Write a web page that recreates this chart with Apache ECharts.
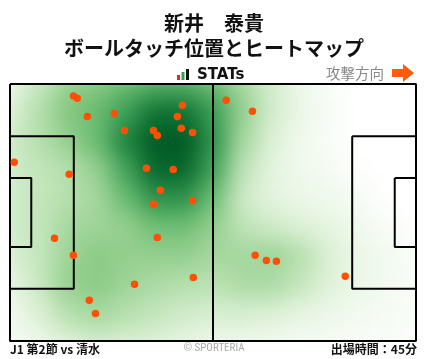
<!DOCTYPE html>
<html><head><meta charset="utf-8">
<script src="https://cdn.jsdelivr.net/npm/echarts@6/dist/echarts.min.js"></script>
<style>
html,body{margin:0;padding:0;background:#fff;}
#wrap{position:relative;width:428px;height:359px;overflow:hidden;}
#heatClip{position:absolute;left:10px;top:84px;width:406px;height:257px;overflow:hidden;}
#heat{position:absolute;left:-14.5px;top:-14.28px;width:435px;height:285.6px;filter:blur(11px);}
#main{position:absolute;left:0;top:0;width:428px;height:359px;}
</style></head>
<body><div id="wrap"><div id="heatClip"><div id="heat"></div></div><div id="main"></div></div>
<script>
// ---- data ----
const titleText = '新井　泰貴';
const subtitleText = 'ボールタッチ位置とヒートマップ';
const matchText = 'J1 第2節 vs 清水';
const minutesText = '出場時間：45分';
const directionText = '攻撃方向';
const creditText = '© SPORTERIA';

// touch positions in metres (x along 105m pitch, y from top over 68m)
const touchX = [16.4,17.4,20.0,27.0,29.6,37.1,38.1,44.6,43.3,44.3,47.2,1.1,15.3,35.3,42.2,38.9,47.2,37.1,11.5,16.4,38.1,32.2,47.4,20.5,22.1,55.9,62.7,63.4,66.3,68.9,86.7];
const touchY = [3.2,3.8,8.6,7.8,12.3,12.3,13.6,5.6,8.6,11.7,12.8,20.7,23.9,22.3,22.6,28.1,30.8,31.8,40.8,45.3,40.6,53.0,51.2,57.2,60.7,4.3,7.2,45.3,46.7,46.9,50.9];

// heat intensity: 10 rows (top->bottom) x 15 columns (left->right)
const heatGrid = [
  [0.13,0.30,0.45,0.50,0.57,0.64,0.64,0.57,0.40,0.24,0.12,0.04,0.00,0.00,0.00],
  [0.20,0.35,0.50,0.57,0.70,0.87,0.87,0.70,0.45,0.24,0.12,0.05,0.00,0.00,0.00],
  [0.25,0.35,0.45,0.57,0.80,1.00,1.00,0.74,0.40,0.20,0.10,0.05,0.00,0.00,0.00],
  [0.25,0.30,0.35,0.45,0.68,0.92,0.92,0.68,0.32,0.16,0.10,0.06,0.01,0.00,0.00],
  [0.25,0.30,0.35,0.40,0.57,0.74,0.74,0.56,0.26,0.16,0.12,0.10,0.06,0.00,0.00],
  [0.25,0.30,0.40,0.42,0.45,0.55,0.55,0.45,0.32,0.26,0.20,0.15,0.10,0.05,0.00],
  [0.20,0.30,0.42,0.48,0.45,0.45,0.45,0.40,0.40,0.42,0.35,0.20,0.12,0.08,0.04],
  [0.15,0.28,0.45,0.48,0.42,0.38,0.35,0.33,0.38,0.38,0.30,0.18,0.12,0.08,0.05],
  [0.10,0.20,0.35,0.40,0.35,0.30,0.25,0.22,0.22,0.20,0.15,0.12,0.08,0.06,0.04],
  [0.08,0.12,0.20,0.25,0.22,0.20,0.15,0.12,0.12,0.10,0.08,0.06,0.05,0.04,0.03]
];

// pitch geometry (metres)
const pitchLength = 105, pitchWidth = 68;
const penaltyDepth = 16.5, penaltyWidth = 40.32;
const goalDepth = 5.5, goalWidth = 18.32;

// ---- heat layer ----
const heatCols = heatGrid[0].map((_, i) => String(i));
const heatRows = heatGrid.map((_, i) => String(i));
const heatData = [];
heatGrid.forEach((row, r) => row.forEach((v, c) => heatData.push([c, r, v])));

const heat = echarts.init(document.getElementById('heat'), null, {renderer: 'canvas'});
heat.setOption({
  animation: false,
  grid: {left: 0, right: 0, top: 0, bottom: 0},
  xAxis: {type: 'category', data: heatCols, show: false},
  yAxis: {type: 'category', data: heatRows, inverse: true, show: false},
  visualMap: {
    show: false, min: 0, max: 1, dimension: 2,
    inRange: {color: ['#ffffff','#f0f9ed','#dcf0d5','#c4e6bc','#a5d79e','#84c77f','#5db66a','#3b9d53','#1e833f','#0a6a2f','#005a24']}
  },
  series: [{type: 'heatmap', data: heatData, itemStyle: {borderWidth: 0}, silent: true}]
});

// ---- main layer ----
function rect(x0, y0, x1, y1) { return [[x0,y0],[x1,y0],[x1,y1],[x0,y1],[x0,y0]]; }
const py0 = (pitchWidth - penaltyWidth) / 2, py1 = py0 + penaltyWidth;
const gy0 = (pitchWidth - goalWidth) / 2, gy1 = gy0 + goalWidth;
const pitchLines = [
  rect(0, 0, pitchLength, pitchWidth),
  [[pitchLength/2, 0],[pitchLength/2, pitchWidth]],
  rect(0, py0, penaltyDepth, py1),
  rect(0, gy0, goalDepth, gy1),
  rect(pitchLength - penaltyDepth, py0, pitchLength, py1),
  rect(pitchLength - goalDepth, gy0, pitchLength, gy1)
];
const lineSeries = pitchLines.map(pts => ({
  type: 'line', data: pts, symbol: 'none', clip: false, silent: true, z: 3,
  lineStyle: {color: '#000', width: 2}
}));

const jp = '"Noto Sans CJK JP", "Noto Sans", sans-serif';
const main = echarts.init(document.getElementById('main'), null, {renderer: 'canvas'});
main.setOption({
  animation: false,
  backgroundColor: 'transparent',
  grid: {left: 10, right: 12, top: 84, bottom: 18},
  xAxis: {type: 'value', min: 0, max: pitchLength, show: false},
  yAxis: {type: 'value', min: 0, max: pitchWidth, inverse: true, show: false},
  title: [
    {text: titleText, left: 'center', top: 8, textStyle: {fontFamily: jp, fontSize: 20, fontWeight: 'bold', color: '#111'}},
    {text: subtitleText, left: 'center', top: 33, textStyle: {fontFamily: jp, fontSize: 20, fontWeight: 'bold', color: '#111'}}
  ],
  graphic: [
    {type: 'rect', shape: {x: 177, y: 75, width: 3, height: 5}, style: {fill: '#e8262a'}},
    {type: 'rect', shape: {x: 181.5, y: 72, width: 3, height: 8}, style: {fill: '#2da44a'}},
    {type: 'rect', shape: {x: 186, y: 69, width: 3, height: 11}, style: {fill: '#111'}},
    {type: 'text', x: 197, y: 75, style: {text: 'STATs', fontFamily: '"DejaVu Sans", sans-serif', fontSize: 15, fontWeight: 'bold', fill: '#111', textVerticalAlign: 'middle'}},
    {type: 'text', x: 326, y: 73, style: {text: directionText, fontFamily: jp, fontSize: 14.5, fill: '#888', textVerticalAlign: 'middle'}},
    {type: 'polygon', shape: {points: [[392,69],[403,69],[403,64],[414,73],[403,82],[403,77],[392,77]]}, style: {fill: '#fb5d0d'}},
    {type: 'text', x: 10, y: 349, style: {text: matchText, fontFamily: jp, fontSize: 12, fontWeight: 'bold', fill: '#111', textVerticalAlign: 'middle'}},
    {type: 'text', x: 214, y: 348.5, style: {text: creditText, fontFamily: '"Liberation Sans Narrow", "Roboto Condensed", Roboto, sans-serif', fontSize: 11, fill: '#aaa', textAlign: 'center', textVerticalAlign: 'middle'}},
    {type: 'text', x: 417, y: 349, style: {text: minutesText, fontFamily: jp, fontSize: 12, fontWeight: 'bold', fill: '#111', textAlign: 'right', textVerticalAlign: 'middle'}}
  ],
  series: lineSeries.concat([{
    type: 'scatter', z: 5, silent: true,
    data: touchX.map((x, i) => [x, touchY[i]]),
    symbolSize: 7.5,
    itemStyle: {color: '#ff5005', opacity: 1}
  }])
});
</script></body></html>
